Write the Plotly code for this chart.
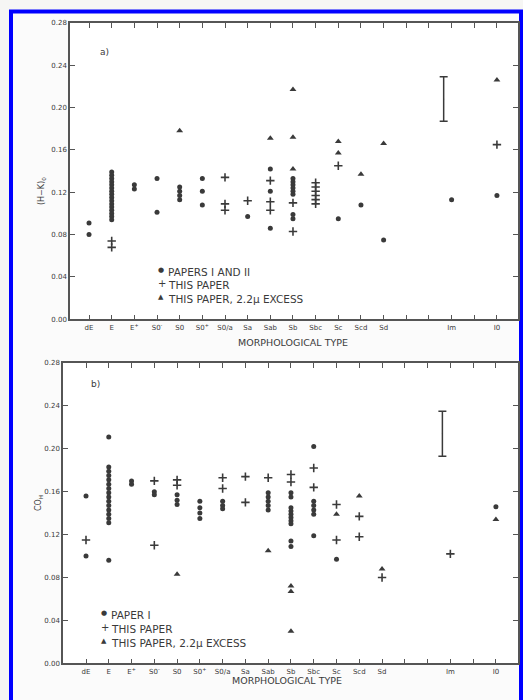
import plotly.graph_objects as go

# ---------------- data ----------------
type_keys = ["dE", "E", "E+", "S0-", "S0", "S0+", "S0/a", "Sa", "Sab",
             "Sb", "Sbc", "Sc", "Scd", "Sd", "Sdm", "Sm", "Im", "Im?", "I0"]
labeled_keys = ["dE", "E", "E+", "S0-", "S0", "S0+", "S0/a", "Sa", "Sab",
                "Sb", "Sbc", "Sc", "Scd", "Sd", "Im", "I0"]
labeled_text = ["dE", "E", "E<sup>+</sup>", "S0<sup>-</sup>", "S0", "S0<sup>+</sup>", "S0/a", "Sa", "Sab",
                "Sb", "Sbc", "Sc", "Scd", "Sd", "Im", "I0"]
y_ticks = [0.00, 0.04, 0.08, 0.12, 0.16, 0.20, 0.24, 0.28]

# panel a) -- Papers I and II (dots)
a_dot_t = (["dE"] * 2 + ["E"] * 16 + ["E+"] * 2 + ["S0-"] * 2 + ["S0"] * 4 + ["S0+"] * 3 + ["Sa"]
           + ["Sab"] * 3 + ["Sb"] * 8 + ["Sc", "Scd", "Sd", "Im", "I0"])
a_dot_v = [0.091, 0.080,
           0.139, 0.136, 0.133, 0.130, 0.127, 0.124, 0.121, 0.118, 0.115, 0.112, 0.109, 0.106, 0.103,
           0.100, 0.097, 0.094,
           0.127, 0.123,
           0.133, 0.101,
           0.125, 0.121, 0.117, 0.113,
           0.133, 0.121, 0.108,
           0.097,
           0.142, 0.121, 0.086,
           0.133, 0.130, 0.127, 0.124, 0.121, 0.118, 0.099, 0.095,
           0.095, 0.108, 0.075, 0.113, 0.117]
# panel a) -- this paper (plus)
a_plus_t = (["E"] * 2 + ["S0/a"] * 3 + ["Sa"] + ["Sab"] * 3 + ["Sb"] * 2 + ["Sbc"] * 6 + ["Sc", "I0"])
a_plus_v = [0.074, 0.068,
            0.134, 0.109, 0.103,
            0.112,
            0.131, 0.111, 0.103,
            0.110, 0.083,
            0.129, 0.125, 0.121, 0.117, 0.113, 0.109,
            0.145, 0.165]
# panel a) -- this paper, 2.2 micron excess (triangles)
a_tri_t = ["S0", "Sab", "Sb", "Sb", "Sb", "Sc", "Sc", "Scd", "Sd", "I0"]
a_tri_v = [0.178, 0.171, 0.217, 0.172, 0.142, 0.168, 0.157, 0.137, 0.166, 0.226]
a_err_x = [16.65]
a_err_lo = [0.187]
a_err_hi = [0.229]
a_legend = ["PAPERS I AND II", "THIS PAPER", "THIS PAPER, 2.2\u03bc EXCESS"]

# panel b) -- Paper I (dots)
b_dot_t = (["dE"] * 2 + ["E"] * 16 + ["E+"] * 2 + ["S0-"] * 2 + ["S0"] * 3 + ["S0+"] * 4 + ["S0/a"] * 3
           + ["Sab"] * 5 + ["Sb"] * 10 + ["Sbc"] * 6 + ["Sc", "I0"])
b_dot_v = [0.156, 0.100,
           0.211, 0.183, 0.179, 0.175, 0.171, 0.167, 0.163, 0.159, 0.155, 0.151, 0.147, 0.143, 0.139,
           0.135, 0.131, 0.096,
           0.170, 0.167,
           0.160, 0.157,
           0.157, 0.152, 0.148,
           0.151, 0.145, 0.140, 0.135,
           0.151, 0.147, 0.144,
           0.159, 0.155, 0.151, 0.147, 0.143,
           0.159, 0.155, 0.145, 0.142, 0.139, 0.136, 0.133, 0.130, 0.114, 0.109,
           0.202, 0.151, 0.147, 0.143, 0.139, 0.119,
           0.097, 0.146]
b_plus_t = (["dE"] + ["S0-"] * 2 + ["S0"] * 2 + ["S0/a"] * 2 + ["Sa"] * 2 + ["Sab"] + ["Sb"] * 2
            + ["Sbc"] * 2 + ["Sc"] * 2 + ["Scd"] * 2 + ["Sd", "Im"])
b_plus_v = [0.115,
            0.170, 0.110,
            0.171, 0.166,
            0.173, 0.163,
            0.174, 0.150,
            0.173,
            0.176, 0.169,
            0.182, 0.164,
            0.148, 0.115,
            0.137, 0.118,
            0.080, 0.102]
b_tri_t = ["S0", "Sab", "Sb", "Sb", "Sb", "Sc", "Scd", "Sd", "I0"]
b_tri_v = [0.083, 0.105, 0.072, 0.067, 0.030, 0.139, 0.156, 0.088, 0.134]
b_err_x = [16.65]
b_err_lo = [0.193]
b_err_hi = [0.235]
b_legend = ["PAPER I", "THIS PAPER", "THIS PAPER, 2.2\u03bc EXCESS"]

# ---------------- figure ----------------
W, H = 523, 700
INK = "#3a3a3a"
FONT = "DejaVu Sans"


def pos(keys):
    return [type_keys.index(k) + 1 for k in keys]


fig = go.Figure()


def add_panel(sfx, dot_t, dot_v, plus_t, plus_v, tri_t, tri_v, ex, elo, ehi, names):
    xa, ya = "x" + sfx, "y" + sfx
    fig.add_trace(go.Scatter(x=pos(dot_t), y=dot_v, mode="markers", name=names[0],
                             marker=dict(symbol="circle", size=5, color=INK),
                             xaxis=xa, yaxis=ya, showlegend=False))
    fig.add_trace(go.Scatter(x=pos(plus_t), y=plus_v, mode="markers", name=names[1],
                             marker=dict(symbol="cross-thin", size=6, color=INK,
                                         line=dict(width=1.6, color=INK)),
                             xaxis=xa, yaxis=ya, showlegend=False))
    fig.add_trace(go.Scatter(x=pos(tri_t), y=tri_v, mode="markers", name=names[2],
                             marker=dict(symbol="triangle-up", size=6, color=INK),
                             xaxis=xa, yaxis=ya, showlegend=False))
    mids = [(l + h) / 2 for l, h in zip(elo, ehi)]
    halves = [(h - l) / 2 for l, h in zip(elo, ehi)]
    fig.add_trace(go.Scatter(x=ex, y=mids, mode="markers", showlegend=False,
                             marker=dict(size=1, color=INK),
                             error_y=dict(type="data", array=halves, visible=True,
                                          color=INK, thickness=1.5, width=4),
                             xaxis=xa, yaxis=ya))


add_panel("", a_dot_t, a_dot_v, a_plus_t, a_plus_v, a_tri_t, a_tri_v,
          a_err_x, a_err_lo, a_err_hi, a_legend)
add_panel("2", b_dot_t, b_dot_v, b_plus_t, b_plus_v, b_tri_t, b_tri_v,
          b_err_x, b_err_lo, b_err_hi, b_legend)

xcommon = dict(tickmode="array", tickvals=pos(labeled_keys), ticktext=labeled_text,
               ticks="inside", ticklen=5, tickwidth=1, tickcolor="#555",
               minor=dict(tickmode="array", tickvals=list(range(1, 20)),
                          ticks="inside", ticklen=5, tickwidth=1, tickcolor="#555"),
               showline=True, linecolor="#555", linewidth=1.5, mirror="ticks",
               showgrid=False, zeroline=False,
               tickfont=dict(family=FONT, size=7, color=INK))
ycommon = dict(tickmode="array", tickvals=y_ticks, ticktext=["%.2f" % v for v in y_ticks],
               range=[0, 0.28], ticks="inside", ticklen=5, tickwidth=1, tickcolor="#555",
               showline=True, linecolor="#555", linewidth=1.5, mirror="ticks",
               showgrid=False, zeroline=False,
               tickfont=dict(family=FONT, size=7, color=INK))

fig.update_layout(
    width=W, height=H,
    margin=dict(l=0, r=0, t=0, b=0),
    paper_bgcolor="#f6f6f4",
    plot_bgcolor="white",
    font=dict(family=FONT, color=INK),
    showlegend=False,
    xaxis=dict(xcommon, domain=[70 / W, 518 / W], range=[0.16, 19.93], anchor="y"),
    yaxis=dict(ycommon, domain=[1 - 319 / H, 1 - 19 / H], anchor="x"),
    xaxis2=dict(xcommon, domain=[63 / W, 518 / W], range=[-0.01, 19.97], anchor="y2"),
    yaxis2=dict(ycommon, domain=[1 - 667 / H, 1 - 363 / H], anchor="x2"),
)

# white page area inside the blue frame and the frame itself
fig.add_shape(type="rect", xref="paper", yref="paper", x0=11 / W, x1=521 / W,
              y0=-0.01, y1=1 - 7.5 / H, line=dict(color="#0000ff", width=4),
              fillcolor="rgba(255,255,255,0.6)", layer="below")

ann = [
    dict(text="a)", x=98 / W, y=1 - 41 / H, size=9),
    dict(text="b)", x=89 / W, y=1 - 384 / H, size=9),
    dict(text="MORPHOLOGICAL TYPE", x=293 / W, y=1 - 342 / H, size=9.5),
    dict(text="MORPHOLOGICAL TYPE", x=287 / W, y=1 - 692 / H, size=9.5),
    dict(text="(H\u2212K)<sub>0</sub>", x=35 / W, y=1 - 173 / H, textangle=-90, size=8),
    dict(text="CO<sub>H</sub>", x=32 / W, y=1 - 515 / H, textangle=-90, size=8),
]
for a in ann:
    sz = a.pop("size")
    fig.add_annotation(xref="paper", yref="paper", showarrow=False,
                       font=dict(family=FONT, size=sz, color=INK), **a)

# legend boxes drawn as text rows
glyphs = ["\u25cf", "+", "\u25b2"]
glyph_sizes = [7, 10, 7]
for names, gx, tx, rows in [(a_legend, 156, 166, [271, 284, 298]),
                            (b_legend, 99, 109, [618, 632, 646])]:
    for name, g, gs, ry in zip(names, glyphs, glyph_sizes, rows):
        fig.add_annotation(xref="paper", yref="paper", showarrow=False, x=gx / W, y=1 - (ry - 1.5) / H,
                           yanchor="middle", text=g, font=dict(family=FONT, size=gs, color=INK))
        fig.add_annotation(xref="paper", yref="paper", showarrow=False, x=tx / W, y=1 - ry / H,
                           xanchor="left", yanchor="middle", text=name,
                           font=dict(family=FONT, size=10.5, color=INK))

fig.write_html("out.html", config={"displayModeBar": False},
               post_script="document.body.style.margin='0';")
